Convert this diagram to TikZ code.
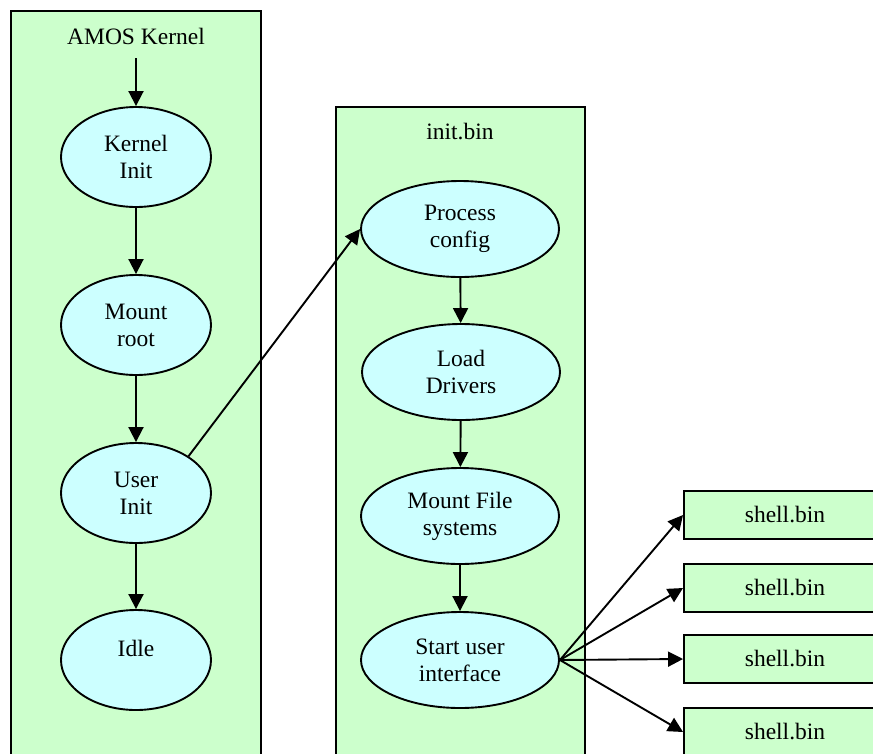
\documentclass[tikz,border=0pt]{standalone}
\usepackage{fontspec}
\setmainfont{Liberation Serif}
\usetikzlibrary{shapes.geometric,arrows.meta}
\definecolor{clusterfill}{HTML}{CCFFCC}
\definecolor{procfill}{HTML}{CCFFFF}
\tikzset{
  cluster/.style={draw=black, fill=clusterfill, line width=1.9pt, rectangle, inner sep=0pt},
  proc/.style={draw=black, fill=procfill, line width=1.9pt, ellipse, inner sep=0pt,
    align=center, minimum width=150pt, minimum height=100pt},
  wideproc/.style={proc, minimum width=198pt, minimum height=96pt},
  prog/.style={draw=black, fill=clusterfill, line width=1.9pt, rectangle, inner sep=0pt,
    minimum width=202pt, minimum height=48pt},
  flow/.style={line width=1.9pt, -{Triangle[length=15pt,width=15pt]}},
  every node/.append style={font=\fontsize{23.5}{27}\selectfont}
}
\begin{document}
\begin{tikzpicture}[x=1pt,y=-1pt]
  \useasboundingbox (0,0) rectangle (873,753);
  \clip (0,0) rectangle (873,753);
  \fill[white] (0,0) rectangle (873,753);

  % clusters (they run past the lower edge)
  \node[cluster, minimum width=250pt, minimum height=800pt] (kernelbox) at (136,411) {};
  \node[cluster, minimum width=249pt, minimum height=700pt] (initbox) at (460.5,457) {};
  \node (kernellabel) at (136,36) {AMOS Kernel};
  \node (initlabel) at (460,132) {init.bin};

  % kernel stages
  \coordinate (kstart) at (136,58);
  \node[proc] (kinit) at (136,157) {Kernel\\Init};
  \node[proc] (mroot) at (136,325) {Mount\\root};
  \node[proc] (uinit) at (136,493) {User\\Init};
  \node[proc, label={[yshift=12pt]center:Idle}] (idle) at (136,660) {};

  % init.bin stages
  \node[wideproc] (pconf) at (460,229) {Process\\config};
  \node[wideproc] (ldrv)  at (461,372) {Load\\Drivers};
  \node[wideproc] (mfs)   at (460,516) {Mount File\\systems};
  \node[wideproc] (sui)   at (460,660) {Start user\\interface};

  % shells
  \node[prog] (sh1) at (785,515) {shell.bin};
  \node[prog] (sh2) at (785,588) {shell.bin};
  \node[prog] (sh3) at (785,659) {shell.bin};
  \node[prog] (sh4) at (785,732) {shell.bin};

  \draw[flow] (kstart) -- (kinit);
  \draw[flow] (kinit) -- (mroot);
  \draw[flow] (mroot) -- (uinit);
  \draw[flow] (uinit) -- (idle);
  \draw[flow] (uinit.35) -- (pconf.west);
  \draw[flow] (pconf) -- (ldrv);
  \draw[flow] (ldrv) -- (mfs);
  \draw[flow] (mfs) -- (sui);
  \draw[flow] (sui.east) -- (sh1.west);
  \draw[flow] (sui.east) -- (sh2.west);
  \draw[flow] (sui.east) -- (sh3.west);
  \draw[flow] (sui.east) -- (sh4.west);
\end{tikzpicture}
\end{document}
